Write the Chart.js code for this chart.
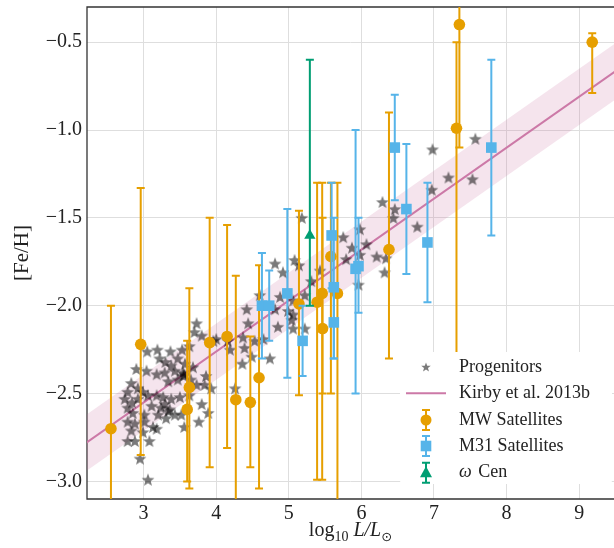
<!DOCTYPE html>
<html>
<head>
<meta charset="utf-8">
<script src="https://cdn.jsdelivr.net/npm/chart.js@4.4.1/dist/chart.umd.min.js"></script>
<style>
  html, body { margin: 0; padding: 0; background: #fff; }
  #wrap { width: 614px; height: 548px; position: relative; }
</style>
</head>
<body>
<div id="wrap"><canvas id="fehChart"></canvas></div>
<script>
// Progenitor stars: log10 L and [Fe/H]
const progLogL = [
  3.73, 3.70, 3.80, 3.05, 3.19, 3.37, 3.53, 3.63, 3.22, 3.30, 3.47, 3.38, 3.57, 2.90, 3.04, 3.18,
  3.29, 3.43, 3.54, 3.55, 3.56, 3.68, 3.34, 3.47, 3.65, 3.73, 3.86, 3.84, 3.93, 2.83, 2.92, 2.78,
  2.99, 3.06, 3.18, 3.27, 3.38, 3.29, 2.74, 2.84, 2.92, 3.11, 3.24, 3.36, 3.50, 3.63, 2.78, 2.85,
  3.01, 3.20, 3.34, 3.52, 3.80, 3.89, 2.78, 2.88, 3.01, 3.13, 3.31, 3.43, 3.56, 3.76, 2.83, 2.99,
  2.88, 2.78, 3.08, 3.18, 2.95, 3.06,
  3.96, 4.00, 4.16, 4.19, 4.26, 4.36, 4.37, 4.39, 4.42, 4.44, 4.49, 4.53, 4.60, 4.65, 4.74, 4.81,
  4.81, 4.85, 4.88, 4.92, 4.99, 5.04, 5.06, 5.06, 5.06, 5.08, 5.14, 5.22, 5.43,
  5.18, 5.22, 5.31, 5.75, 5.79, 5.87, 5.96, 5.98, 5.98, 6.07, 6.21, 6.29, 6.32, 6.34, 6.44, 6.46,
  6.77, 6.97, 6.98, 7.20, 7.53, 7.57
];
const progFeH = [
  -2.10, -2.15, -2.17, -2.26, -2.25, -2.26, -2.25, -2.23, -2.30, -2.32, -2.30, -2.34, -2.33, -2.36, -2.37, -2.39,
  -2.38, -2.37, -2.38, -2.40, -2.39, -2.35, -2.43, -2.42, -2.42, -2.45, -2.40, -2.45, -2.47, -2.44, -2.47, -2.49,
  -2.49, -2.51, -2.51, -2.52, -2.53, -2.56, -2.53, -2.55, -2.53, -2.57, -2.58, -2.59, -2.52, -2.51, -2.58, -2.61,
  -2.62, -2.62, -2.60, -2.62, -2.56, -2.61, -2.66, -2.67, -2.66, -2.69, -2.64, -2.62, -2.69, -2.66, -2.71, -2.72,
  -2.77, -2.77, -2.77, -2.70, -2.87, -2.99,
  -2.20, -2.19, -2.20, -2.25, -2.47, -2.33, -2.18, -2.24, -2.02, -2.10, -2.29, -2.20, -1.94, -2.19, -2.30, -1.76,
  -2.02, -2.12, -1.95, -1.81, -2.03, -2.08, -1.97, -2.05, -2.13, -1.74, -1.77, -2.13, -1.80,
  -1.50, -1.94, -1.86, -1.61, -1.735, -1.67, -1.88, -1.565, -1.71, -1.65, -1.72, -1.41, -1.81, -1.73, -1.50, -1.45,
  -1.55, -1.34, -1.11, -1.27, -1.28, -1.05
];

// Milky Way satellites with lower / upper [Fe/H] bounds
const mwLogL = [2.55, 2.96, 3.60, 3.63, 3.91, 4.15, 4.27, 4.47, 4.59, 5.14, 5.39, 5.46, 5.465, 5.58, 5.67, 6.38, 7.31, 7.35, 9.18];
const mwFeH  = [-2.70, -2.22, -2.59, -2.465, -2.21, -2.175, -2.535, -2.55, -2.41, -1.99, -1.98, -1.93, -2.13, -1.72, -1.93, -1.68, -0.99, -0.40, -0.50];
const mwLow  = [-3.40, -2.85, -3.00, -3.04, -2.92, -2.81, -3.40, -2.92, -3.04, -2.51, -2.99, -2.99, -2.50, -2.50, -3.40, -2.30, -2.95, -1.10, -0.79];
const mwHigh = [-2.00, -1.33, -2.20, -1.90, -1.50, -1.54, -1.83, -2.175, -1.77, -1.46, -1.30, -1.30, -1.50, -1.30, -1.30, -0.90, -0.50, -0.20, -0.45];

// M31 satellites
const m31LogL = [4.63, 4.73, 4.98, 5.19, 5.59, 5.62, 5.62, 5.92, 5.96, 6.46, 6.62, 6.91, 7.79];
const m31FeH  = [-2.00, -2.00, -1.93, -2.20, -1.60, -1.895, -2.095, -1.79, -1.775, -1.10, -1.45, -1.64, -1.10];
const m31Low  = [-2.30, -2.20, -2.41, -2.40, -1.90, -2.30, -2.30, -2.50, -2.04, -1.40, -1.82, -1.98, -1.60];
const m31High = [-1.70, -1.80, -1.45, -2.00, -1.30, -1.50, -1.90, -1.00, -1.50, -0.80, -1.08, -1.30, -0.60];

// omega Cen
const ocenLogL = [5.29];
const ocenFeH  = [-1.60];
const ocenLow  = [-2.00];
const ocenHigh = [-0.60];

// Kirby et al. 2013b relation and its scatter band
const kirbyLogL  = [2.2, 9.5];
const kirbyFeH   = [-2.783, -0.666];
const kirbyUpper = [-2.623, -0.506];
const kirbyLower = [-2.943, -0.826];

// Axis ticks
const xTicks = [3, 4, 5, 6, 7, 8, 9];
const yTicks = [-3.0, -2.5, -2.0, -1.5, -1.0, -0.5];

const ORANGE = '#E69F00', BLUE = '#56B4E9', GREEN = '#009E73', PINK = '#CC79A7';
const SERIF = '"Liberation Serif", "DejaVu Serif", serif';

function starImage(r, fill) {
  const size = Math.ceil(r * 2 + 2);
  const c = document.createElement('canvas');
  c.width = c.height = size;
  const g = c.getContext('2d');
  g.translate(size / 2, size / 2 + r * 0.08);
  g.beginPath();
  for (let i = 0; i < 10; i++) {
    const rad = i % 2 ? r * 0.42 : r;
    const a = -Math.PI / 2 + i * Math.PI / 5;
    g.lineTo(rad * Math.cos(a), rad * Math.sin(a));
  }
  g.closePath();
  g.fillStyle = fill;
  g.fill();
  return c;
}

const pts = (xs, ys, lo, hi) => xs.map((x, i) => ({ x, y: ys[i], yMin: lo ? lo[i] : undefined, yMax: hi ? hi[i] : undefined }));

// vertical error bars with caps, drawn just under each series' markers
const errorBars = {
  id: 'errorBars',
  beforeDatasetDraw(chart, args) {
    const ds = chart.data.datasets[args.index];
    if (!ds.errorBars) return;
    const { ctx, chartArea: a, scales: { x, y } } = chart;
    ctx.save();
    ctx.beginPath();
    ctx.rect(a.left, a.top, a.right - a.left, a.bottom - a.top);
    ctx.clip();
    ctx.strokeStyle = ds.backgroundColor;
    ctx.lineWidth = 2;
    ds.data.forEach(p => {
      const px = x.getPixelForValue(p.x);
      const top = y.getPixelForValue(p.yMax);
      const bot = y.getPixelForValue(p.yMin);
      ctx.beginPath();
      ctx.moveTo(px, top); ctx.lineTo(px, bot);
      ctx.moveTo(px - 4, top); ctx.lineTo(px + 4, top);
      ctx.moveTo(px - 4, bot); ctx.lineTo(px + 4, bot);
      ctx.stroke();
    });
    ctx.restore();
  }
};

// frame, x-axis label and legend box
const decorations = {
  id: 'decorations',
  beforeDatasetsDraw(chart) {
    const { ctx, chartArea: a } = chart;
    ctx.save();
    ctx.strokeStyle = '#333';
    ctx.lineWidth = 1.3;
    ctx.beginPath();
    ctx.moveTo(a.right + 2, a.top); ctx.lineTo(a.left, a.top);
    ctx.lineTo(a.left, a.bottom); ctx.lineTo(a.right + 2, a.bottom);
    ctx.stroke();
    ctx.restore();
  },
  afterDatasetsDraw(chart) {
    const { ctx, chartArea: a } = chart;
    ctx.save();

    // legend
    const bx = 400, by = 352, bw = 212, bh = 132;
    ctx.fillStyle = '#fff';
    ctx.beginPath();
    ctx.roundRect(bx, by, bw, bh, 4);
    ctx.fill();

    const iconX = 426, textX = 459;
    const rows = [367, 393.3, 420, 446, 472.7];
    ctx.drawImage(legendStar, iconX - legendStar.width / 2, rows[0] - legendStar.height / 2);

    ctx.strokeStyle = PINK; ctx.lineWidth = 2;
    ctx.beginPath(); ctx.moveTo(406, rows[1]); ctx.lineTo(446, rows[1]); ctx.stroke();

    const errIcon = (yc, color, marker) => {
      ctx.strokeStyle = color; ctx.fillStyle = color; ctx.lineWidth = 2;
      ctx.beginPath();
      ctx.moveTo(iconX, yc - 10); ctx.lineTo(iconX, yc + 10);
      ctx.moveTo(iconX - 4, yc - 10); ctx.lineTo(iconX + 4, yc - 10);
      ctx.moveTo(iconX - 4, yc + 10); ctx.lineTo(iconX + 4, yc + 10);
      ctx.stroke();
      ctx.beginPath();
      if (marker === 'circle') ctx.arc(iconX, yc, 5.5, 0, Math.PI * 2);
      else if (marker === 'rect') ctx.rect(iconX - 5.3, yc - 5.3, 10.6, 10.6);
      else { ctx.moveTo(iconX, yc - 6.5); ctx.lineTo(iconX + 6, yc + 4.5); ctx.lineTo(iconX - 6, yc + 4.5); ctx.closePath(); }
      ctx.fill();
    };
    errIcon(rows[2], ORANGE, 'circle');
    errIcon(rows[3], BLUE, 'rect');
    errIcon(rows[4], GREEN, 'triangle');

    ctx.fillStyle = '#222';
    ctx.textBaseline = 'middle';
    ctx.textAlign = 'left';
    ctx.font = '18px ' + SERIF;
    ctx.fillText('Progenitors', textX, rows[0]);
    ctx.fillText('Kirby et al. 2013b', textX, rows[1]);
    ctx.fillText('MW Satellites', textX, rows[2]);
    ctx.fillText('M31 Satellites', textX, rows[3]);
    ctx.font = 'italic 18px ' + SERIF;
    ctx.fillText('\u03c9', textX, rows[4]);
    const wW = ctx.measureText('\u03c9 ').width;
    ctx.font = '18px ' + SERIF;
    ctx.fillText('Cen', textX + wW + 2, rows[4]);

    // x-axis label: log10 L / L_sun
    const base = 535.5;
    const parts = [
      { t: 'log', f: '20px ' + SERIF, dy: 0 },
      { t: '10', f: '14px ' + SERIF, dy: 5 },
      { t: ' L/L', f: 'italic 20px ' + SERIF, dy: 0 },
      { t: '\u2299', f: '13px "DejaVu Sans", sans-serif', dy: 5 }
    ];
    let total = 0;
    parts.forEach(p => { ctx.font = p.f; p.w = ctx.measureText(p.t).width; total += p.w; });
    let cx = (a.left + a.right) / 2 - total / 2;
    ctx.textBaseline = 'alphabetic';
    parts.forEach(p => { ctx.font = p.f; ctx.fillText(p.t, cx, base + p.dy); cx += p.w; });
    ctx.restore();
  }
};

const dataStar = starImage(6.8, 'rgba(0,0,0,0.52)');
const legendStar = starImage(5, 'rgba(0,0,0,0.52)');

const fixTicks = values => scale => { scale.ticks = values.map(v => ({ value: v })); };

new Chart(document.getElementById('fehChart'), {
  type: 'scatter',
  data: {
    datasets: [
      { label: 'omega Cen', data: pts(ocenLogL, ocenFeH, ocenLow, ocenHigh), errorBars: true,
        pointStyle: 'triangle', pointRadius: 6.5, backgroundColor: GREEN, borderWidth: 0, order: 1 },
      { label: 'M31 Satellites', data: pts(m31LogL, m31FeH, m31Low, m31High), errorBars: true,
        pointStyle: 'rect', pointRadius: 7.5, backgroundColor: BLUE, borderWidth: 0, order: 2 },
      { label: 'MW Satellites', data: pts(mwLogL, mwFeH, mwLow, mwHigh), errorBars: true,
        pointStyle: 'circle', pointRadius: 5.8, backgroundColor: ORANGE, borderWidth: 0, order: 3 },
      { label: 'Progenitors', data: pts(progLogL, progFeH),
        pointStyle: dataStar, pointRadius: 6, order: 4 },
      { label: 'Kirby et al. 2013b', type: 'line', data: pts(kirbyLogL, kirbyFeH),
        borderColor: PINK, borderWidth: 2, pointRadius: 0, fill: false, order: 5 },
      { label: 'upper', type: 'line', data: pts(kirbyLogL, kirbyUpper),
        borderWidth: 0, pointRadius: 0, fill: '+1', backgroundColor: 'rgba(204,121,167,0.2)', order: 6 },
      { label: 'lower', type: 'line', data: pts(kirbyLogL, kirbyLower),
        borderWidth: 0, pointRadius: 0, fill: false, order: 7 }
    ]
  },
  options: {
    responsive: true,
    maintainAspectRatio: false,
    animation: false,
    events: [],
    layout: { autoPadding: false, padding: { top: 7, right: 0, left: 0, bottom: 0 } },
    plugins: { legend: { display: false }, tooltip: { enabled: false } },
    scales: {
      x: {
        type: 'linear', min: 2.22, max: 9.48,
        afterBuildTicks: fixTicks(xTicks),
        afterFit: s => { s.height = 49; s.paddingLeft = 0; s.paddingRight = 0; },
        grid: { color: '#dedede', lineWidth: 1, drawTicks: false },
        border: { display: false },
        ticks: { padding: 3, color: '#222', font: { family: SERIF, size: 20 }, callback: v => String(v) }
      },
      y: {
        type: 'linear', min: -3.1, max: -0.3,
        afterBuildTicks: fixTicks(yTicks),
        afterFit: s => { s.width = 87; s.paddingTop = 0; s.paddingBottom = 0; },
        grid: { color: '#dedede', lineWidth: 1, drawTicks: false },
        border: { display: false },
        ticks: { padding: 5, color: '#222', font: { family: SERIF, size: 20 },
          callback: v => (v < 0 ? '\u2212' : '') + Math.abs(v).toFixed(1) },
        title: { display: true, text: '[Fe/H]', color: '#222', font: { family: SERIF, size: 21 }, padding: { top: 10 } }
      }
    }
  },
  plugins: [errorBars, decorations]
});
</script>
</body>
</html>
